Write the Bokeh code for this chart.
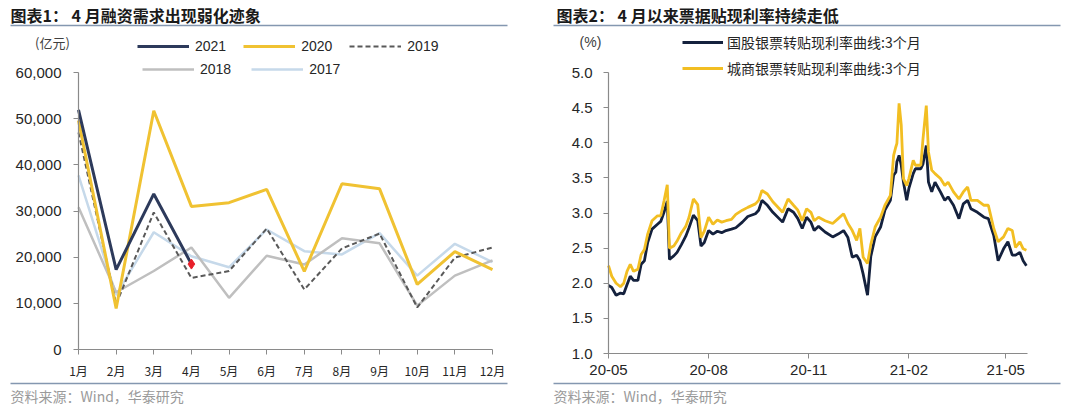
import pandas as pd
from bokeh.plotting import figure
from bokeh.layouts import row
from bokeh.models import (Range1d, FixedTicker, NumeralTickFormatter, PrintfTickFormatter,
                          DatetimeTickFormatter, Legend, LegendItem, Label, BoxAnnotation,
                          LinearAxis, DatetimeAxis)
from bokeh.embed import file_html
from bokeh.resources import INLINE

# ---------------- data: chart 1 (社融, 亿元) ----------------
months = ["1月", "2月", "3月", "4月", "5月", "6月", "7月", "8月", "9月", "10月", "11月", "12月"]
month_idx = [1, 2, 3, 4, 5, 6, 7, 8, 9, 10, 11, 12]
tsf_2021 = [51900, 17300, 33700, 18500]
tsf_2020 = [49600, 8900, 51700, 31000, 31800, 34700, 16900, 35900, 34800, 14100, 21200, 17300]
tsf_2019 = [47000, 9800, 29700, 15500, 17000, 26200, 13000, 21900, 25100, 9100, 19900, 22100]
tsf_2018 = [30800, 12400, 17000, 22100, 11200, 20300, 18400, 24100, 23000, 9500, 16000, 19300]
tsf_2017 = [37700, 11800, 25400, 20200, 17800, 26000, 21300, 20600, 25200, 16000, 22900, 18900]
y1_ticks = [0, 10000, 20000, 30000, 40000, 50000, 60000]

# ---------------- data: chart 2 (票据转贴现利率, %) ----------------
rate_dates = [
    "2020-05-01", "2020-05-04", "2020-05-08", "2020-05-12", "2020-05-15", "2020-05-18", "2020-05-21",
    "2020-05-24", "2020-05-28", "2020-05-31", "2020-06-03", "2020-06-06", "2020-06-10", "2020-06-15",
    "2020-06-18", "2020-06-21", "2020-06-24", "2020-06-26", "2020-06-30", "2020-07-03", "2020-07-07",
    "2020-07-11", "2020-07-14", "2020-07-18", "2020-07-22", "2020-07-25", "2020-07-28", "2020-08-01",
    "2020-08-05", "2020-08-09", "2020-08-13", "2020-08-17", "2020-08-22", "2020-08-26", "2020-09-01",
    "2020-09-06", "2020-09-13", "2020-09-16", "2020-09-19", "2020-09-24", "2020-09-29", "2020-10-08",
    "2020-10-13", "2020-10-18", "2020-10-22", "2020-10-26", "2020-10-30", "2020-11-03", "2020-11-06",
    "2020-11-10", "2020-11-16", "2020-11-23", "2020-11-28", "2020-12-03", "2020-12-07", "2020-12-11",
    "2020-12-15", "2020-12-18", "2020-12-21", "2020-12-25", "2020-12-28", "2021-01-01", "2021-01-06",
    "2021-01-10", "2021-01-15", "2021-01-18", "2021-01-20", "2021-01-21", "2021-01-23", "2021-01-25",
    "2021-01-27", "2021-01-30", "2021-02-01", "2021-02-05", "2021-02-07", "2021-02-12", "2021-02-14",
    "2021-02-17", "2021-02-19", "2021-02-22", "2021-02-25", "2021-03-02", "2021-03-06", "2021-03-09",
    "2021-03-14", "2021-03-19", "2021-03-23", "2021-03-27", "2021-03-30", "2021-04-05", "2021-04-11",
    "2021-04-15", "2021-04-20", "2021-04-24", "2021-04-29", "2021-05-03", "2021-05-07", "2021-05-10",
    "2021-05-14", "2021-05-17", "2021-05-20"]
rate_guogu = [
    1.97, 1.94, 1.83, 1.86, 1.85, 1.98, 2.10, 2.04, 2.04, 2.27, 2.32, 2.58, 2.77, 2.84,
    2.88, 3.01, 3.17, 2.34, 2.39, 2.44, 2.55, 2.67, 2.79, 2.97, 2.89, 2.53, 2.58, 2.75,
    2.70, 2.74, 2.72, 2.75, 2.77, 2.79, 2.87, 2.95, 2.99, 3.04, 3.18, 3.11, 3.01, 2.87,
    3.06, 3.01, 2.92, 2.78, 2.94, 2.87, 2.75, 2.81, 2.73, 2.66, 2.70, 2.75, 2.65, 2.37,
    2.40, 2.32, 2.13, 1.83, 2.38, 2.66, 2.80, 3.04, 3.18, 3.54, 3.58, 3.73, 3.82, 3.68,
    3.44, 3.18, 3.35, 3.56, 3.63, 3.63, 3.70, 3.96, 3.44, 3.30, 3.44, 3.30, 3.18, 3.23,
    3.11, 2.92, 3.13, 3.18, 3.06, 3.01, 2.94, 2.92, 2.68, 2.32, 2.49, 2.59, 2.40, 2.40,
    2.44, 2.32, 2.25]
rate_chengshang = [
    2.25, 2.10, 2.00, 1.95, 2.00, 2.17, 2.27, 2.17, 2.20, 2.41, 2.48, 2.70, 2.89, 2.96,
    2.96, 3.17, 3.40, 2.50, 2.53, 2.60, 2.72, 2.81, 2.94, 3.20, 3.12, 2.65, 2.74, 2.94,
    2.84, 2.90, 2.87, 2.89, 2.91, 2.98, 3.04, 3.08, 3.13, 3.18, 3.32, 3.27, 3.16, 3.01,
    3.20, 3.11, 3.04, 2.89, 3.06, 3.01, 2.89, 2.94, 2.89, 2.85, 2.92, 2.99, 2.85, 2.75,
    2.61, 2.78, 2.37, 2.28, 2.55, 2.80, 2.94, 3.11, 3.25, 3.82, 3.94, 3.99, 4.56, 4.25,
    3.49, 3.39, 3.49, 3.75, 3.68, 3.68, 4.06, 4.53, 3.87, 3.61, 3.56, 3.49, 3.39, 3.44,
    3.30, 3.20, 3.30, 3.37, 3.18, 3.18, 3.11, 3.11, 2.78, 2.59, 2.66, 2.78, 2.75, 2.51,
    2.59, 2.49, 2.47]
x2_ticks = ["2020-05-01", "2020-08-01", "2020-11-01", "2021-02-01", "2021-05-01"]
x2_domain = ["2020-05-01", "2021-05-21"]
y2_ticks = [1.0, 1.5, 2.0, 2.5, 3.0, 3.5, 4.0, 4.5, 5.0]

FONT = "Liberation Sans, Noto Sans CJK SC"
CJK = "Noto Sans CJK SC, Liberation Sans"
AXIS_C = "#8a8a8a"
TXT_C = "#262626"
RULE_C = "#8497B0"

W, H = 540, 409  # each panel's canvas


def span_range(lo, hi, px_lo, px_hi, total):
    # data range of the whole canvas so that lo sits at px_lo and hi at px_hi
    k = (hi - lo) / (px_hi - px_lo)
    return Range1d(lo - px_lo * k, hi + (total - px_hi) * k)


def span_range_y(lo, hi, py_lo, py_hi, total):
    # py measured from the top; lo at py_lo (lower), hi at py_hi (upper)
    k = (hi - lo) / (py_lo - py_hi)
    return Range1d(lo - (total - py_lo) * k, hi + py_hi * k)


def style_axis(ax, size, font=FONT, standoff=8):
    ax.axis_line_color = AXIS_C
    ax.axis_line_width = 1.2
    ax.major_tick_line_color = AXIS_C
    ax.major_tick_in = 0
    ax.major_tick_out = 5
    ax.minor_tick_line_color = None
    ax.major_label_text_color = TXT_C
    ax.major_label_text_font = font
    ax.major_label_text_font_size = size
    ax.major_label_standoff = standoff


def add_text(p, x, y, text, size, color, bold=False, align="left", font=CJK):
    p.add_layout(Label(x=x, y=y, x_units="canvas", y_units="canvas", text=text,
                       text_font=font, text_font_size=size, text_color=color,
                       text_font_style="bold" if bold else "normal",
                       text_align=align, text_baseline="middle"))


def add_rule(p, x0, x1, y):
    p.add_layout(BoxAnnotation(left=x0, right=x1, top=y - 0.75, bottom=y + 0.75,
                               left_units="canvas", right_units="canvas",
                               top_units="canvas", bottom_units="canvas",
                               fill_color=RULE_C, fill_alpha=1, line_alpha=0))


def base_fig(xr, yr, **kw):
    p = figure(width=W, height=H, output_backend="svg", toolbar_location=None, title=None,
               x_range=xr, y_range=yr, x_axis_location=None, y_axis_location=None,
               min_border=0, **kw)
    p.xgrid.grid_line_color = None
    p.ygrid.grid_line_color = None
    p.outline_line_color = None
    return p


# ---------------- chart 1 ----------------
p1 = base_fig(span_range(1, 12, 78, 492, W), span_range_y(0, 60000, 349, 72, H))
r17 = p1.line(month_idx, tsf_2017, line_color="#C6D9EA", line_width=2.5)
r18 = p1.line(month_idx, tsf_2018, line_color="#BFBFBF", line_width=2.5)
r19 = p1.line(month_idx, tsf_2019, line_color="#595959", line_width=2, line_dash="5 3")
r20 = p1.line(month_idx, tsf_2020, line_color="#F0C232", line_width=3)
r21 = p1.line(month_idx[:len(tsf_2021)], tsf_2021, line_color="#2D3A5B", line_width=3)
p1.scatter([month_idx[len(tsf_2021) - 1]], [tsf_2021[-1]], marker="diamond", size=10,
           fill_color="#E8202A", line_color="#E8202A")

xa1 = LinearAxis(fixed_location=0, bounds=(month_idx[0], month_idx[-1]),
                 ticker=FixedTicker(ticks=month_idx),
                 major_label_overrides={m: lab for m, lab in zip(month_idx, months)})
style_axis(xa1, "12px", font=CJK, standoff=7)
ya1 = LinearAxis(fixed_location=month_idx[0], bounds=(y1_ticks[0], y1_ticks[-1]),
                 ticker=FixedTicker(ticks=y1_ticks), formatter=NumeralTickFormatter(format="0,0"))
style_axis(ya1, "15px", standoff=12)
p1.add_layout(xa1, "below")
p1.add_layout(ya1, "left")

leg_a = Legend(items=[LegendItem(label="2021", renderers=[r21]),
                      LegendItem(label="2020", renderers=[r20]),
                      LegendItem(label="2019", renderers=[r19])],
               orientation="horizontal", location=(137, H - 54), glyph_width=52, glyph_height=14,
               label_standoff=6, spacing=17, padding=0, margin=0,
               label_text_font=FONT, label_text_font_size="14px", label_text_color=TXT_C,
               border_line_alpha=0, background_fill_alpha=0)
leg_b = Legend(items=[LegendItem(label="2018", renderers=[r18]),
                      LegendItem(label="2017", renderers=[r17])],
               orientation="horizontal", location=(142, H - 77), glyph_width=52, glyph_height=14,
               label_standoff=6, spacing=20, padding=0, margin=0,
               label_text_font=FONT, label_text_font_size="14px", label_text_color=TXT_C,
               border_line_alpha=0, background_fill_alpha=0)
p1.add_layout(leg_a)
p1.add_layout(leg_b)

add_text(p1, 10, 14, "图表1：  4 月融资需求出现弱化迹象", "16px", "#1a1a1a", bold=True)
add_rule(p1, 10, 507, 25)
add_text(p1, 52, 42, "(亿元)", "13px", "#404040", align="center")
add_rule(p1, 10, 507, 383)
add_text(p1, 10, 395, "资料来源：Wind，华泰研究", "14px", "#9a9a9a")

# ---------------- chart 2 ----------------
dts = pd.to_datetime(rate_dates)
d0 = pd.Timestamp(x2_domain[0]).value / 1e6
d1 = pd.Timestamp(x2_domain[1]).value / 1e6
p2 = base_fig(span_range(d0, d1, 68, 487, W), span_range_y(y2_ticks[0], y2_ticks[-1], 353, 72, H))
g1 = p2.line(dts, rate_guogu, line_color="#14213D", line_width=2.8)
g2 = p2.line(dts, rate_chengshang, line_color="#F2BE22", line_width=2.8)

xa2 = DatetimeAxis(fixed_location=y2_ticks[0], bounds=(d0, d1),
                   ticker=FixedTicker(ticks=[pd.Timestamp(t).value / 1e6 for t in x2_ticks]),
                   formatter=DatetimeTickFormatter(years="%y-%m", months="%y-%m", days="%y-%m",
                                                   hours="%y-%m", minutes="%y-%m"))
style_axis(xa2, "15px", standoff=6)
ya2 = LinearAxis(fixed_location=d0, bounds=(y2_ticks[0], y2_ticks[-1]),
                 ticker=FixedTicker(ticks=y2_ticks), formatter=PrintfTickFormatter(format="%.1f"))
style_axis(ya2, "15px", standoff=11)
p2.add_layout(xa2, "below")
p2.add_layout(ya2, "left")

leg_c = Legend(items=[LegendItem(label="国股银票转贴现利率曲线:3个月", renderers=[g1]),
                      LegendItem(label="城商银票转贴现利率曲线:3个月", renderers=[g2])],
               orientation="vertical", location=(142, H - 78), glyph_width=41, glyph_height=14,
               label_standoff=4, spacing=6, padding=0, margin=0,
               label_text_font=CJK, label_text_font_size="14px", label_text_color=TXT_C,
               border_line_alpha=0, background_fill_alpha=0)
p2.add_layout(leg_c)

add_text(p2, 16, 14, "图表2：  4 月以来票据贴现利率持续走低", "16px", "#1a1a1a", bold=True)
add_rule(p2, 13, 520, 25)
add_text(p2, 50, 41, "(%)", "14px", "#404040", align="center", font=FONT)
add_rule(p2, 13, 520, 383)
add_text(p2, 13, 395, "资料来源：Wind，华泰研究", "14px", "#9a9a9a")

layout = row(p1, p2)
open("out.html", "w").write(file_html(layout, INLINE))
